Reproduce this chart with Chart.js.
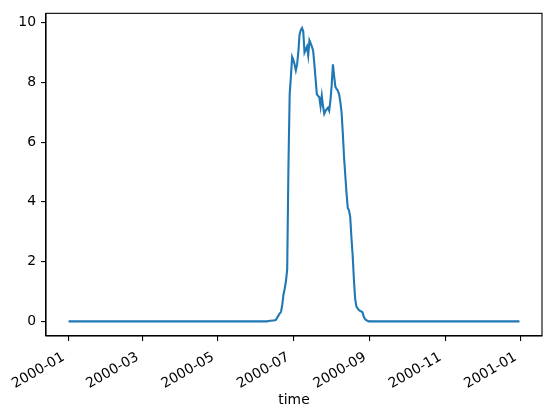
<!DOCTYPE html>
<html>
<head>
<meta charset="utf-8">
<script src="https://cdn.jsdelivr.net/npm/chart.js@4.4.1/dist/chart.umd.min.js"></script>
<style>
  html, body { margin: 0; padding: 0; background: #fff; }
  #wrap { width: 552px; height: 416px; }
</style>
</head>
<body>
<div id="wrap"><canvas id="mychart"></canvas></div>
<script>
// daily values; the rest of the year is flat at zero
const dates = [
  '2000-01-01', '2000-06-08',
  '2000-06-09', '2000-06-10', '2000-06-11', '2000-06-12', '2000-06-13', '2000-06-14',
  '2000-06-15', '2000-06-16', '2000-06-17', '2000-06-18', '2000-06-19', '2000-06-20',
  '2000-06-21', '2000-06-22', '2000-06-23', '2000-06-24', '2000-06-25', '2000-06-26',
  '2000-06-27', '2000-06-28', '2000-06-29', '2000-06-30',
  '2000-07-01', '2000-07-02', '2000-07-03', '2000-07-04', '2000-07-05', '2000-07-06',
  '2000-07-07', '2000-07-08', '2000-07-09', '2000-07-10', '2000-07-11', '2000-07-12',
  '2000-07-13', '2000-07-14', '2000-07-15', '2000-07-16', '2000-07-17', '2000-07-18',
  '2000-07-19', '2000-07-20', '2000-07-21', '2000-07-22', '2000-07-23', '2000-07-24',
  '2000-07-25', '2000-07-26', '2000-07-27', '2000-07-28', '2000-07-29', '2000-07-30',
  '2000-07-31',
  '2000-08-01', '2000-08-02', '2000-08-03', '2000-08-04', '2000-08-05', '2000-08-06',
  '2000-08-07', '2000-08-08', '2000-08-09', '2000-08-10', '2000-08-11', '2000-08-12',
  '2000-08-13', '2000-08-14', '2000-08-15', '2000-08-16', '2000-08-17', '2000-08-18',
  '2000-08-19', '2000-08-20', '2000-08-21', '2000-08-22', '2000-08-23', '2000-08-24',
  '2000-08-25', '2000-08-26', '2000-08-27', '2000-08-28', '2000-08-29', '2000-08-30',
  '2000-08-31',
  '2000-12-31'
];
const values = [
  0, 0,
  0, 0, 0.01, 0.02, 0.02, 0.03,
  0.03, 0.04, 0.06, 0.13, 0.2, 0.27,
  0.32, 0.55, 0.9, 1.1, 1.35, 1.75,
  5.2, 7.6, 8.2, 8.85,
  8.75, 8.6, 8.4, 8.6, 9.0, 9.6,
  9.75, 9.82, 9.7, 9.0, 9.1, 9.2,
  8.9, 9.4, 9.3, 9.2, 9.05, 8.6,
  8.1, 7.6, 7.55, 7.5, 7.2, 7.55,
  7.2, 6.95, 7.05, 7.1, 7.15, 7.05,
  7.4,
  7.9, 8.6, 8.2, 7.85, 7.78, 7.72,
  7.6, 7.35, 7.0, 6.3, 5.5, 4.9,
  4.3, 3.8, 3.72, 3.5, 2.8, 2.2,
  1.4, 0.75, 0.5, 0.43, 0.38, 0.35,
  0.33, 0.3, 0.15, 0.08, 0.04, 0.02,
  0,
  0
];
const tickDates = ['2000-01-01', '2000-03-01', '2000-05-01', '2000-07-01', '2000-09-01', '2000-11-01', '2001-01-01'];
const tickLabels = ['2000-01', '2000-03', '2000-05', '2000-07', '2000-09', '2000-11', '2001-01'];
const yTicks = [0, 2, 4, 6, 8, 10];

const t0 = Date.parse('2000-01-01');
function dayOf(d) { return (Date.parse(d) - t0) / 86400000; }

const points = dates.map((d, i) => ({ x: dayOf(d), y: values[i] }));
const tickDays = tickDates.map(dayOf);

const font = { family: 'DejaVu Sans', size: 13.9 };

const frame = {
  id: 'frame',
  afterDraw(chart) {
    const a = chart.chartArea;
    const ctx = chart.ctx;
    ctx.save();
    ctx.strokeStyle = '#000';
    ctx.lineWidth = 1.1;
    ctx.strokeRect(a.left, a.top, a.right - a.left, a.bottom - a.top);
    ctx.restore();
  }
};

new Chart(document.getElementById('mychart'), {
  type: 'line',
  data: {
    datasets: [{
      data: points,
      borderColor: '#1f77b4',
      borderWidth: 2.1,
      pointRadius: 0,
      tension: 0,
      fill: false
    }]
  },
  options: {
    responsive: true,
    maintainAspectRatio: false,
    animation: false,
    layout: { padding: { top: 10, right: 10, left: 0, bottom: 0 } },
    plugins: { legend: { display: false }, tooltip: { enabled: false } },
    scales: {
      x: {
        type: 'linear',
        min: -18.25,
        max: 383.25,
        afterBuildTicks(scale) { scale.ticks = tickDays.map(v => ({ value: v })); },
        afterFit(scale) { scale.height = 80; },
        grid: { drawOnChartArea: false, drawTicks: true, tickLength: 5, color: '#000', lineWidth: 1.1 },
        border: { display: true, color: '#000', width: 1.1 },
        ticks: {
          color: '#000',
          font: font,
          padding: 8,
          labelOffset: -5,
          autoSkip: false,
          minRotation: 30,
          maxRotation: 30,
          callback(v) {
            const i = tickDays.indexOf(v);
            return i >= 0 ? tickLabels[i] : '';
          }
        },
        title: { display: true, text: 'time', color: '#000', font: font, padding: { top: 0, bottom: 7 } }
      },
      y: {
        min: -0.49,
        max: 10.31,
        afterBuildTicks(scale) { scale.ticks = yTicks.map(v => ({ value: v })); },
        afterFit(scale) { scale.width = 46; },
        grid: { drawOnChartArea: false, drawTicks: true, tickLength: 5, color: '#000', lineWidth: 1.1 },
        border: { display: true, color: '#000', width: 1.1 },
        ticks: { color: '#000', font: font, padding: 5 }
      }
    }
  },
  plugins: [frame]
});
</script>
</body>
</html>
